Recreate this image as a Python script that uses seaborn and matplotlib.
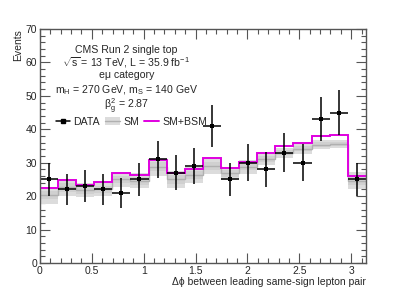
import numpy as np
import pandas as pd
import matplotlib
matplotlib.use("Agg")
import matplotlib.pyplot as plt
import seaborn as sns
from matplotlib.ticker import MultipleLocator
from matplotlib.lines import Line2D
from matplotlib.patches import Patch

# 18 bins in delta phi between 0 and pi
n_bins = 18
edges = np.linspace(0, np.pi, n_bins + 1)

data_counts = [25, 22, 23, 22, 21, 25, 31, 27, 29, 41, 25, 30, 28, 33, 30, 43, 45, 25]
sm_yield = [20.3, 22.6, 21.8, 22.1, 25.0, 24.6, 28.8, 25.0, 26.3, 29.0, 26.8, 28.7, 31.2, 33.0, 34.2, 35.4, 35.6, 24.6]
sm_unc = [2.5, 2.5, 2.0, 2.0, 2.3, 2.3, 2.7, 2.5, 2.5, 2.3, 2.0, 2.0, 1.8, 1.5, 1.5, 1.3, 1.3, 2.5]
sm_bsm_yield = [22.3, 24.8, 23.3, 24.1, 26.9, 26.2, 30.8, 26.8, 28.0, 31.3, 28.3, 30.2, 33.0, 35.0, 35.8, 37.9, 38.2, 26.0]

info_lines = [
    "CMS Run 2 single top",
    r"$\sqrt{s}$ = 13 TeV, L = 35.9 fb$^{-1}$",
    "eμ category",
    r"m$_{H}$ = 270 GeV, m$_{S}$ = 140 GeV",
    r"$\beta_{g}^{2}$ = 2.87",
]

sns.set_theme(style="ticks")
plt.rcParams['font.family'] = ['Liberation Sans', 'DejaVu Sans']
plt.rcParams['mathtext.fontset'] = 'custom'
plt.rcParams['mathtext.rm'] = 'Liberation Sans'
plt.rcParams['mathtext.it'] = 'Liberation Sans'

centers = 0.5 * (edges[:-1] + edges[1:])
df = pd.DataFrame({'dphi': centers, 'events': data_counts})
df['err'] = np.sqrt(df['events'])
sm = np.array(sm_yield)
unc = np.array(sm_unc)

fig = plt.figure(figsize=(4.07, 2.92), dpi=100)
ax = fig.add_axes([0.098, 0.099, 0.801, 0.802])

# SM uncertainty band and central value
ax.stairs(sm + unc, edges, baseline=sm - unc, fill=True, color='#dcdcdc', lw=0)
ax.stairs(sm + 0.5 * unc, edges, baseline=sm - 0.5 * unc, fill=True, color='#d0d0d0', lw=0)
ax.stairs(sm, edges, color='#b0b0b0', lw=1.0, baseline=None)

# SM + BSM
ax.stairs(sm_bsm_yield, edges, color='#e000e0', lw=1.4, baseline=None)

# data
half_w = (edges[1] - edges[0]) / 2
ax.errorbar(df['dphi'], df['events'], yerr=df['err'], xerr=half_w,
            fmt='none', ecolor='black', elinewidth=1.1, capsize=0)
sns.scatterplot(data=df, x='dphi', y='events', ax=ax, color='black',
                marker='s', s=12, edgecolor='black', linewidth=0, zorder=5)

ax.set_xlim(0, np.pi)
ax.set_ylim(0, 70)
ax.xaxis.set_major_locator(MultipleLocator(0.5))
ax.xaxis.set_minor_locator(MultipleLocator(0.1))
ax.yaxis.set_major_locator(MultipleLocator(10))
ax.yaxis.set_minor_locator(MultipleLocator(2))
ax.xaxis.set_major_formatter(plt.FuncFormatter(lambda v, p: f"{v:g}"))
ax.tick_params(which='both', direction='in', top=True, right=True, labelsize=7.5,
               color='#555555', width=0.8, pad=2)
ax.tick_params(which='major', length=7)
ax.tick_params(which='minor', length=3.5)
for s in ax.spines.values():
    s.set_color('#555555')
    s.set_linewidth(1.0)

ax.set_xlabel(r"Δϕ between leading same-sign lepton pair", fontsize=7.5, loc='right', labelpad=1)
ax.set_ylabel("Events", fontsize=7.5, loc='top', labelpad=2)

ys = [0.912, 0.855, 0.802, 0.737, 0.668]
for txt, yy in zip(info_lines, ys):
    ax.text(0.265, yy, txt, transform=ax.transAxes, ha='center', va='center', fontsize=7.6)

handles = [
    Line2D([0], [0], color='black', marker='s', markersize=2.5, lw=1.1),
    (Patch(facecolor='#dcdcdc', edgecolor='none'), Line2D([0], [0], color='#b0b0b0', lw=1.0)),
    Line2D([0], [0], color='#e000e0', lw=1.4),
]
leg = ax.legend(handles, ['DATA', 'SM', 'SM+BSM'], ncol=3, frameon=False, fontsize=7.6,
                loc='center left', bbox_to_anchor=(0.035, 0.603), handlelength=1.4,
                handletextpad=0.3, columnspacing=0.5, borderaxespad=0.0)

fig.savefig('out.png', dpi=100)
